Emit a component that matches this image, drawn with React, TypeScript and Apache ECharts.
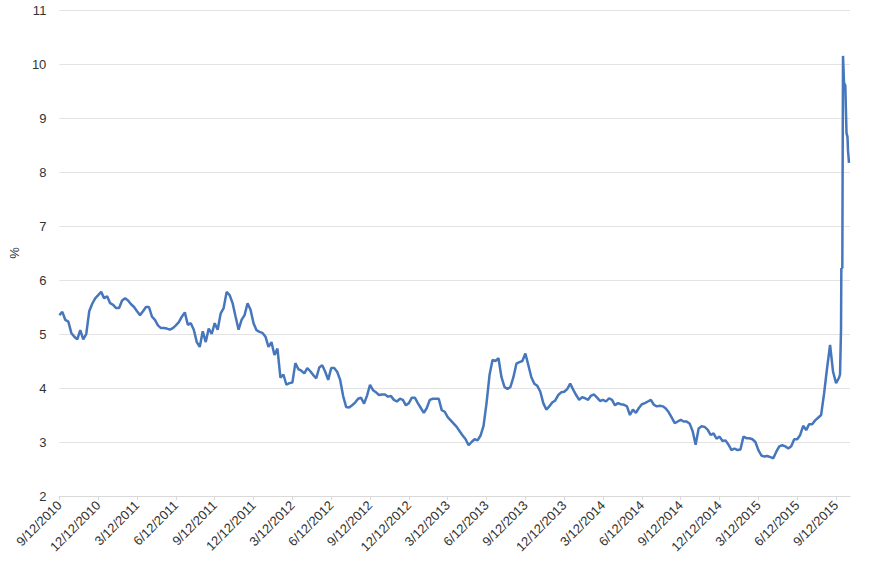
import React, { useEffect, useRef } from "react";
import * as echarts from "echarts";

// Quarterly tick labels (one every 13 weeks from 9/12/2010)
const tickLabels = [
  "9/12/2010", "12/12/2010", "3/12/2011", "6/12/2011", "9/12/2011", "12/12/2011",
  "3/12/2012", "6/12/2012", "9/12/2012", "12/12/2012", "3/12/2013", "6/12/2013",
  "9/12/2013", "12/12/2013", "3/12/2014", "6/12/2014", "9/12/2014", "12/12/2014",
  "3/12/2015", "6/12/2015", "9/12/2015",
];

// Weekly readings (%), week 0 = 9/12/2010
const weeklyRates = [
  5.35, 5.41, 5.26, 5.23, 5.02, 4.95, 4.9, 5.07, 4.9, 5.0,
  5.42, 5.56, 5.66, 5.72, 5.78, 5.66, 5.7, 5.57, 5.54, 5.48,
  5.48, 5.62, 5.66, 5.62, 5.55, 5.5, 5.42, 5.35, 5.42, 5.5,
  5.5, 5.32, 5.26, 5.16, 5.11, 5.11, 5.1, 5.08, 5.11, 5.16,
  5.22, 5.32, 5.4, 5.17, 5.2, 5.08, 4.85, 4.76, 5.05, 4.85,
  5.1, 5.0, 5.2, 5.08, 5.38, 5.48, 5.78, 5.72, 5.57, 5.32,
  5.08, 5.26, 5.35, 5.57, 5.45, 5.2, 5.07, 5.04, 5.02, 4.95,
  4.76, 4.85, 4.61, 4.73, 4.19, 4.25, 4.06, 4.09, 4.1, 4.46,
  4.35, 4.32, 4.27, 4.37, 4.31, 4.24, 4.18, 4.38, 4.42, 4.3,
  4.15, 4.37, 4.37, 4.3, 4.15, 3.85, 3.65, 3.64, 3.68, 3.73,
  3.8, 3.82, 3.71, 3.86, 4.06, 3.96, 3.92, 3.87, 3.88, 3.88,
  3.84, 3.85, 3.78, 3.75, 3.8, 3.78, 3.68, 3.72, 3.82, 3.82,
  3.72, 3.63, 3.54, 3.63, 3.78, 3.8, 3.8, 3.8, 3.59, 3.56,
  3.46, 3.4, 3.34, 3.28, 3.2, 3.12, 3.05, 2.94, 3.0, 3.05,
  3.03, 3.12, 3.3, 3.72, 4.24, 4.52, 4.5, 4.55, 4.2, 4.02,
  3.98, 4.02, 4.2, 4.45, 4.48, 4.5, 4.64, 4.42, 4.2, 4.08,
  4.04, 3.93, 3.72, 3.6, 3.66, 3.73, 3.77, 3.87, 3.92, 3.93,
  3.98, 4.08, 3.97, 3.87, 3.78, 3.83, 3.81, 3.78, 3.86, 3.88,
  3.82, 3.76, 3.78, 3.75, 3.81, 3.78, 3.68, 3.72, 3.7, 3.69,
  3.66, 3.5, 3.6, 3.54, 3.63, 3.7, 3.72, 3.75, 3.78, 3.69,
  3.66, 3.67, 3.66, 3.62, 3.55, 3.45, 3.35, 3.38, 3.41, 3.38,
  3.38, 3.34, 3.2, 2.95, 3.25, 3.29, 3.28, 3.23, 3.13, 3.16,
  3.06, 3.1, 3.02, 3.03, 2.95, 2.85, 2.88, 2.85, 2.86, 3.1,
  3.07, 3.07, 3.05, 3.0, 2.85, 2.75, 2.73, 2.74, 2.72, 2.7,
  2.82, 2.92, 2.94, 2.92, 2.88, 2.92, 3.05, 3.05, 3.13, 3.3,
  3.22, 3.33, 3.33, 3.4, 3.45, 3.5, 3.9, 4.37, 4.8, 4.3,
  4.09, 4.19,
];

// Final days of the series at finer resolution: [week, %]
const finalDays: [number, number][] = [
  [261.33, 4.25], [261.67, 5.1], [261.77, 6.22], [262.1, 6.22],
  [262.33, 10.15], [262.67, 9.65], [263.1, 9.6], [263.5, 8.72],
  [263.83, 8.65], [264.0, 8.4], [264.33, 8.17],
];

const FONT = "'Liberation Sans', Arial, sans-serif";

export default function App() {
  const ref = useRef<HTMLDivElement>(null);
  useEffect(() => {
    const chart = echarts.init(ref.current!, null, { renderer: "svg" });
    const tickWeeks = tickLabels.map((_, k) => k * 13);
    const data: [number, number][] = (weeklyRates.map((v, i) => [i, v]) as [number, number][]).concat(finalDays);
    chart.setOption({
      animation: false,
      grid: { left: 56, right: 20, top: 10, bottom: 70 },
      xAxis: {
        type: "value",
        min: 0,
        max: 264.67,
        splitLine: { show: false },
        axisLine: { lineStyle: { color: "#d9d9d9", width: 1 } },
        axisTick: {
          show: true,
          customValues: tickWeeks,
          length: 4,
          lineStyle: { color: "#d9d9d9" },
        },
        axisLabel: {
          customValues: tickWeeks,
          rotate: 45,
          margin: 7,
          fontSize: 13,
          color: "#333",
          fontFamily: FONT,
          formatter: (v: number) => tickLabels[Math.round(v / 13)] ?? "",
        },
      },
      yAxis: {
        type: "value",
        min: 2,
        max: 11,
        interval: 1,
        name: "%",
        nameLocation: "middle",
        nameGap: 30,
        nameTextStyle: { fontSize: 13, color: "#333", fontFamily: FONT },
        axisLine: { show: false },
        axisTick: { show: false },
        splitLine: { lineStyle: { color: "#e3e3e3", width: 1 } },
        axisLabel: { margin: 13, fontSize: 13, color: "#333", fontFamily: FONT },
      },
      series: [
        {
          type: "line",
          data,
          symbol: "none",
          showSymbol: false,
          lineStyle: { color: "#4676BC", width: 2.5 },
        },
      ],
    });
    return () => chart.dispose();
  }, []);
  return (
    <div
      ref={ref}
      style={{ position: "fixed", left: 0, top: 0, width: 870, height: 566, background: "#fff" }}
    />
  );
}
